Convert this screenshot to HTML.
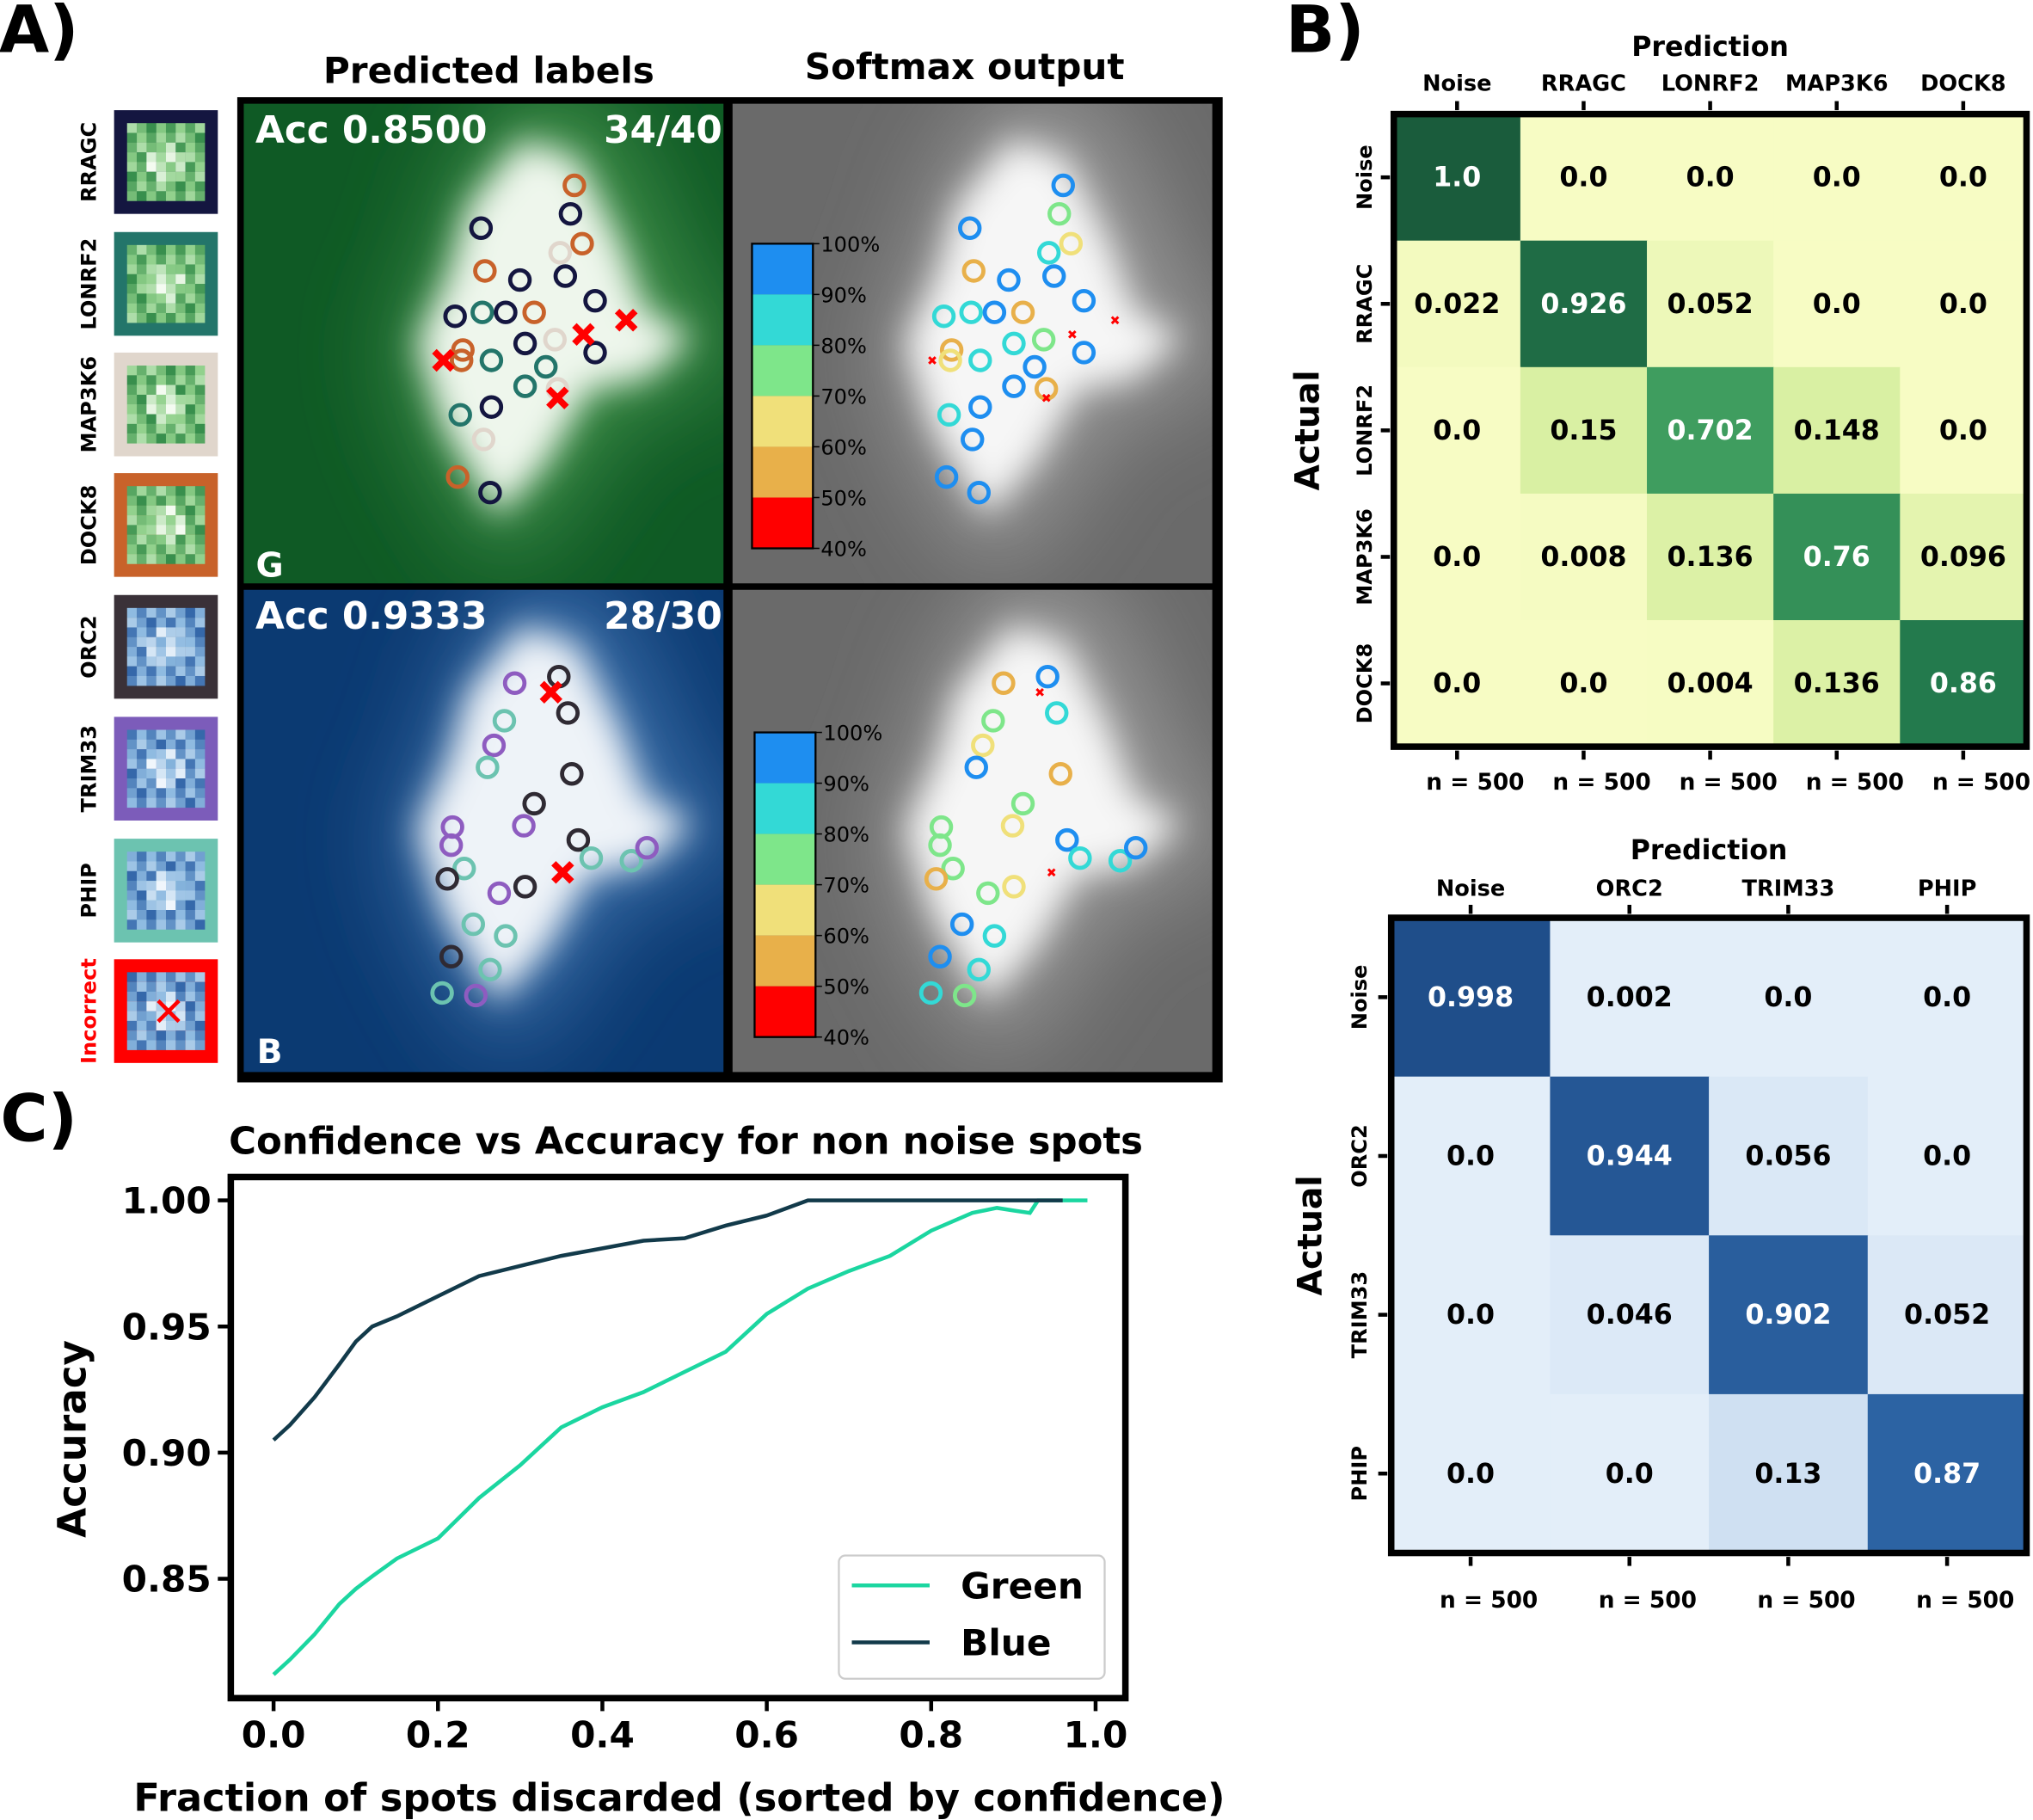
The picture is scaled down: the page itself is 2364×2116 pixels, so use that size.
<!DOCTYPE html>
<html><head><meta charset="utf-8"><style>
html,body{margin:0;padding:0;background:#fff;}
svg{display:block;font-family:"DejaVu Sans","Liberation Sans",sans-serif;font-weight:bold;}
</style></head><body>
<svg id="fig" width="2364" height="2116" viewBox="0 0 1568 1404" preserveAspectRatio="none" xmlns="http://www.w3.org/2000/svg">
<defs>
<filter id="blur12" x="-50%" y="-50%" width="200%" height="200%"><feGaussianBlur stdDeviation="14"/></filter>
<filter id="blur30" x="-50%" y="-50%" width="200%" height="200%"><feGaussianBlur stdDeviation="30"/></filter>
<clipPath id="cTL"><rect x="188" y="80" width="370" height="370"/></clipPath>
<clipPath id="cTR"><rect x="565" y="80" width="370" height="370"/></clipPath>
<clipPath id="cBL"><rect x="188" y="455" width="370" height="372"/></clipPath>
<clipPath id="cBR"><rect x="565" y="455" width="370" height="372"/></clipPath>
</defs>
<g id="root"></g>
</svg>
<script>
// ---------- chart data ----------
const fracX = [0,0.02,0.05,0.08,0.1,0.12,0.15,0.2,0.25,0.3,0.35,0.4,0.45,0.5,0.55,0.6,0.65,0.7,0.75,0.8,0.85,0.88,0.9,0.92,0.93,0.96,0.99];
const blueAcc = [0.905,0.911,0.922,0.935,0.944,0.950,0.954,0.962,0.970,0.974,0.978,0.981,0.984,0.985,0.990,0.994,1.0,1.0,1.0,1.0,1.0,1.0,1.0,1.0,1.0,1.0,null];
const greenAcc = [0.812,0.818,0.828,0.840,0.846,0.851,0.858,0.866,0.882,0.895,0.910,0.918,0.924,0.932,0.940,0.955,0.965,0.972,0.978,0.988,0.995,0.997,0.996,0.995,1.0,1.0,1.0];
const xTicks = [0.0,0.2,0.4,0.6,0.8,1.0];
const yTicks = [0.85,0.90,0.95,1.00];
const cm1Labels = ["Noise","RRAGC","LONRF2","MAP3K6","DOCK8"];
const cm1Values = [[1.0,0.0,0.0,0.0,0.0],[0.022,0.926,0.052,0.0,0.0],[0.0,0.15,0.702,0.148,0.0],[0.0,0.008,0.136,0.76,0.096],[0.0,0.0,0.004,0.136,0.86]];
const cm2Labels = ["Noise","ORC2","TRIM33","PHIP"];
const cm2Values = [[0.998,0.002,0.0,0.0],[0.0,0.944,0.056,0.0],[0.0,0.046,0.902,0.052],[0.0,0.0,0.13,0.87]];
const tileNames = ["RRAGC","LONRF2","MAP3K6","DOCK8","ORC2","TRIM33","PHIP","Incorrect"];
const cbLabels = ["100%","90%","80%","70%","60%","50%","40%"];
const cbColors = ["#1e8ef0","#33d9d6","#7ee68a","#f0e07a","#e8b04a","#ff0000"];
const spotsG = [[443,143,0],[371,176,1],[440,165,1],[449,188,0],[374,209,0],[401,216,1],[436,213,1],[351,244,1],[372,241,2],[390,241,1],[412,241,0],[459,232,1],[405,265,1],[357,270,0],[428,262,3],[459,272,1],[379,278,2],[405,298,2],[421,283,2],[355,320,2],[379,314,1],[373,339,3],[430,300,3],[353,368,0],[378,380,1],[432,195,3],[356,278,0]];
const softG = [0,0,2,3,4,0,0,1,1,0,4,0,1,4,2,0,1,0,0,1,0,0,4,0,0,1,3];
const xG = [[342,278],[450,258],[483,247],[430,307]];
const spotsB = [[431,522,1],[397,527,4],[438,550,1],[389,556,5],[381,575,4],[376,592,5],[441,597,1],[412,620,1],[404,637,4],[349,638,4],[348,652,4],[446,648,1],[456,662,5],[487,664,5],[499,654,4],[358,670,5],[345,678,1],[385,689,4],[405,684,1],[365,713,5],[390,722,5],[348,738,1],[378,748,5],[341,766,5],[367,768,4]];
const softB = [0,4,1,2,3,0,4,2,3,2,2,0,1,1,0,2,4,2,3,0,1,0,1,1,2];
const xB = [[425,534],[434,673]];

// ---------- helpers ----------
const NS="http://www.w3.org/2000/svg";
const root=document.getElementById('root');
function mk(tag,attrs,parent){const e=document.createElementNS(NS,tag);for(const k in attrs)e.setAttribute(k,attrs[k]);(parent||root).appendChild(e);return e;}
function txt(s,x,y,size,attrs,parent){const e=mk('text',Object.assign({x:x,y:y,'font-size':size,'text-anchor':'middle'},attrs||{}),parent);e.textContent=s;return e;}
function lerp(a,b,t){return a+(b-a)*t;}
function hex(c){return [parseInt(c.slice(1,3),16),parseInt(c.slice(3,5),16),parseInt(c.slice(5,7),16)];}
function ramp(stops,v){for(let i=1;i<stops.length;i++){if(v<=stops[i][0]){const t=(v-stops[i-1][0])/(stops[i][0]-stops[i-1][0]);const a=hex(stops[i-1][1]),b=hex(stops[i][1]);return 'rgb('+a.map((x,j)=>Math.round(lerp(x,b[j],t))).join(',')+')';}}return stops[stops.length-1][1];}
function fmt(v){const s=String(v);return s.indexOf('.')<0?s+'.0':s;}
const greenStops=[[0,'#f7fcc4'],[0.15,'#d9f0a3'],[0.7,'#3f9d5f'],[0.86,'#237a4d'],[1,'#1a5c3c']];
const blueStops=[[0,'#e3eef9'],[0.13,'#cfe0f2'],[0.87,'#2c63a3'],[1,'#1f4e8a']];

let t;
t=txt('A)',30,40,50,{});  
t=txt('B)',1022,40,50,{});  
t=txt('C)',30,880,50,{});  
t=txt('Predicted labels',377,64,28,{});  
t=txt('Softmax output',744,61,28,{});  

// ---------- tiles ----------
const tileFrames=['#141640','#23756a','#e0d6cc','#c8622a','#3a3138','#7c5cba','#6cc3b0','#ff0000'];
const tileYs=[85,179,272,365,459,553,647,740];
tileNames.forEach((n,i)=>{
  const g=mk('g',{});
  
  
  const y=tileYs[i];
  mk('rect',{x:88,y:y,width:80,height:80,fill:tileFrames[i]},g);
  const isG=i<4;
  for(let r=0;r<8;r++)for(let c=0;c<8;c++){
    const d=Math.abs(r-3.5)+Math.abs(c-3.5);
    const v=((r*7+c*13+i*5)%9)/9*0.6+(d<3?0:0.35);
    const col=isG?ramp([[0,'#f4fbf1'],[0.5,'#8fd08a'],[1,'#1e7b3a']],Math.min(1,v)):ramp([[0,'#f0f6fc'],[0.5,'#8cb9e0'],[1,'#1a4f9a']],Math.min(1,v));
    mk('rect',{x:98+c*7.5,y:y+10+r*7.5,width:7.6,height:7.6,fill:col},g);
  }
  const lab=txt(n,74,y+40,16,{transform:'rotate(-90 74 '+(y+40)+')',fill:i==7?'#ff0000':'#000'});
  
  
});
mk('path',{d:'M122 772 L138 788 M138 772 L122 788',stroke:'#ff0000','stroke-width':3});

// ---------- image panels ----------
const border=mk('rect',{x:183,y:75,width:760,height:760,fill:'#000'});


const blob='M360 150 L405 95 L450 110 L485 180 L505 235 L545 258 L505 292 L460 300 L425 360 L385 405 L340 330 L318 262 L345 205 Z';
function panel(clip,dx,dy,bg,glow,core,name){
  const g=mk('g',{'clip-path':'url(#'+clip+')'});
  
  
  mk('rect',{x:150,y:60,width:800,height:800,fill:bg},g);
  mk('path',{d:blob,transform:'translate('+dx+' '+dy+') translate(-95 -60) scale(1.25)',fill:glow,filter:'url(#blur30)'},g);
  mk('path',{d:blob,transform:'translate('+dx+' '+dy+') translate(22 18) scale(0.94)',fill:core,filter:'url(#blur12)'},g);
  return g;
}
panel('cTL',0,0,'#0f5a25','#3f8f4a','#eef6ec','panel-green-predicted');
panel('cTR',377,0,'#6a6a6a','#9a9a9a','#f6f6f6','panel-green-softmax');
panel('cBL',0,375,'#0b3a72','#3a6ea8','#eef3f8','panel-blue-predicted');
panel('cBR',377,375,'#6a6a6a','#9a9a9a','#f6f6f6','panel-blue-softmax');

t=txt('Acc 0.8500',197,110,29,{fill:'#fff','text-anchor':'start'});  
t=txt('34/40',557,110,29,{fill:'#fff','text-anchor':'end'});  
t=txt('G',208,445,26,{fill:'#fff'});  
t=txt('Acc 0.9333',197,485,29,{fill:'#fff','text-anchor':'start'});  
t=txt('28/30',557,485,29,{fill:'#fff','text-anchor':'end'});  
t=txt('B',208,820,26,{fill:'#fff'});  

const labColsG=['#c8622a','#141640','#23756a','#e0d6cc'];
const labColsB=['','#2f2a33','','','#8e5cc0','#6cc3b0'];
function spots(list,cols,dx,clip,nm){
  const g=mk('g',{'clip-path':'url(#'+clip+')'});
  
  
  list.forEach((s,i)=>{
    const c=mk('circle',{cx:s[0]+dx,cy:s[1],r:7.5,fill:'none',stroke:cols(s,i),'stroke-width':3.2},g);
    
    
  });
}
spots(spotsG,(s)=>labColsG[s[2]],0,'cTL','spots-green-labels');
spots(spotsG,(s,i)=>cbColors[softG[i]],377,'cTR','spots-green-softmax');
spots(spotsB,(s)=>labColsB[s[2]],0,'cBL','spots-blue-labels');
spots(spotsB,(s,i)=>cbColors[softB[i]],377,'cBR','spots-blue-softmax');
function xmark(x,y,sz,w){const p=mk('path',{d:`M${x-sz} ${y-sz} L${x+sz} ${y+sz} M${x+sz} ${y-sz} L${x-sz} ${y+sz}`,stroke:'#ff0000','stroke-width':w});}
xG.forEach(p=>{xmark(p[0],p[1],7,5);xmark(p[0]+377,p[1],2.5,2);});
xB.forEach(p=>{xmark(p[0],p[1],7,5);xmark(p[0]+377,p[1],2.5,2);});

function colorbar(x,y0,h,nm){
  const g=mk('g',{});
  
  
  const bh=h/cbColors.length;
  cbColors.forEach((c,i)=>mk('rect',{x:x,y:y0+i*bh,width:47,height:bh,fill:c},g));
  mk('rect',{x:x,y:y0,width:47,height:h,fill:'none',stroke:'#000','stroke-width':1.5},g);
  cbLabels.forEach((l,i)=>{
    const yy=y0+i*h/(cbLabels.length-1);
    mk('line',{x1:x+47,x2:x+52,y1:yy,y2:yy,stroke:'#000','stroke-width':1},g);
    txt(l,x+53,yy+6,16,{'text-anchor':'start','font-weight':'normal'},g);
  });
}
colorbar(580,188,235,'colorbar-green');
colorbar(582,565,235,'colorbar-blue');

// ---------- confusion matrices ----------
function cmatrix(vals,labels,x0,y0,size,stops,nm,labelY,predY,actX,fs,rowX,nY){
  const g=mk('g',{});
  
  
  const n=labels.length,cs=size/n;
  vals.forEach((row,r)=>row.forEach((v,c)=>{
    const cell=mk('rect',{x:x0+c*cs,y:y0+r*cs,width:cs+0.5,height:cs+0.5,fill:ramp(stops,v)},g);
    
    
    txt(fmt(v),x0+c*cs+cs/2,y0+r*cs+cs/2+7,fs,{fill:v>0.5?'#fff':'#000'},g);
  }));
  mk('rect',{x:x0,y:y0,width:size,height:size,fill:'none',stroke:'#000','stroke-width':5},g);
  labels.forEach((l,i)=>{
    const cx=x0+i*cs+cs/2;
    txt(l,cx,labelY,17,{},g);
    mk('line',{x1:cx,x2:cx,y1:y0-3,y2:y0-10,stroke:'#000','stroke-width':3},g);
    mk('line',{x1:cx,x2:cx,y1:y0+size+3,y2:y0+size+10,stroke:'#000','stroke-width':3},g);
    txt('n = 500',cx+14,nY,17.5,{},g);
    const cy=y0+i*cs+cs/2;
    mk('line',{x1:x0-3,x2:x0-10,y1:cy,y2:cy,stroke:'#000','stroke-width':3},g);
    txt(l,rowX,cy,16,{transform:`rotate(-90 ${rowX} ${cy})`},g);
  });
  txt('Prediction',x0+size/2,predY,21,{},g);
  const ay=y0+size/2;
  txt('Actual',actX,ay,26,{transform:`rotate(-90 ${actX} ${ay})`},g);
}
cmatrix(cm1Values,cm1Labels,1075,88,488,greenStops,'confusion-matrix-green',70,43,1017,21,1058,609);
cmatrix(cm2Values,cm2Labels,1073,708,490,blueStops,'confusion-matrix-blue',691,663,1019,21,1054,1240);

// ---------- line chart ----------
const PX0=178,PX1=868,PY0=908,PY1=1310;
function sx(v){return 211+v*(845-211);}
function sy(v){return 926+(1.0-v)/0.05*97.3;}
const cg=mk('g',{});


t=txt('Confidence vs Accuracy for non noise spots',529,890,28.8,{},cg);  
function line(ys,col,nm){
  let d='';ys.forEach((v,i)=>{if(v===null)return;d+=(d?'L':'M')+sx(fracX[i]).toFixed(1)+' '+sy(v).toFixed(1)+' ';});
  const p=mk('path',{d:d,fill:'none',stroke:col,'stroke-width':3},cg);
  
  
}
line(greenAcc,'#1bd6a0','series-green');
line(blueAcc,'#123a4a','series-blue');
mk('rect',{x:PX0,y:PY0,width:PX1-PX0,height:PY1-PY0,fill:'none',stroke:'#000','stroke-width':5},cg);
xTicks.forEach(v=>{const x=sx(v);mk('line',{x1:x,x2:x,y1:PY1+2,y2:PY1+10,stroke:'#000','stroke-width':3},cg);const l=txt(v.toFixed(1),x,1348,28,{},cg);});
yTicks.forEach(v=>{const y=sy(v);mk('line',{x1:PX0-2,x2:PX0-10,y1:y,y2:y,stroke:'#000','stroke-width':3},cg);const l=txt(v.toFixed(2),163,y+10,28,{'text-anchor':'end'},cg);});
t=txt('Fraction of spots discarded (sorted by confidence)',524,1397,29.6,{},cg);  
t=txt('Accuracy',66,1110,30,{transform:'rotate(-90 66 1110)'},cg);  
const lg=mk('g',{},cg);


mk('rect',{x:647,y:1200,width:205,height:95,rx:5,fill:'#fff',stroke:'#ccc','stroke-width':1.5},lg);
mk('line',{x1:657,x2:717,y1:1223,y2:1223,stroke:'#1bd6a0','stroke-width':3},lg);
mk('line',{x1:657,x2:717,y1:1267,y2:1267,stroke:'#123a4a','stroke-width':3},lg);
txt('Green',741,1233,28,{'text-anchor':'start'},lg);
txt('Blue',741,1277,28,{'text-anchor':'start'},lg);
</script>
</body></html>
